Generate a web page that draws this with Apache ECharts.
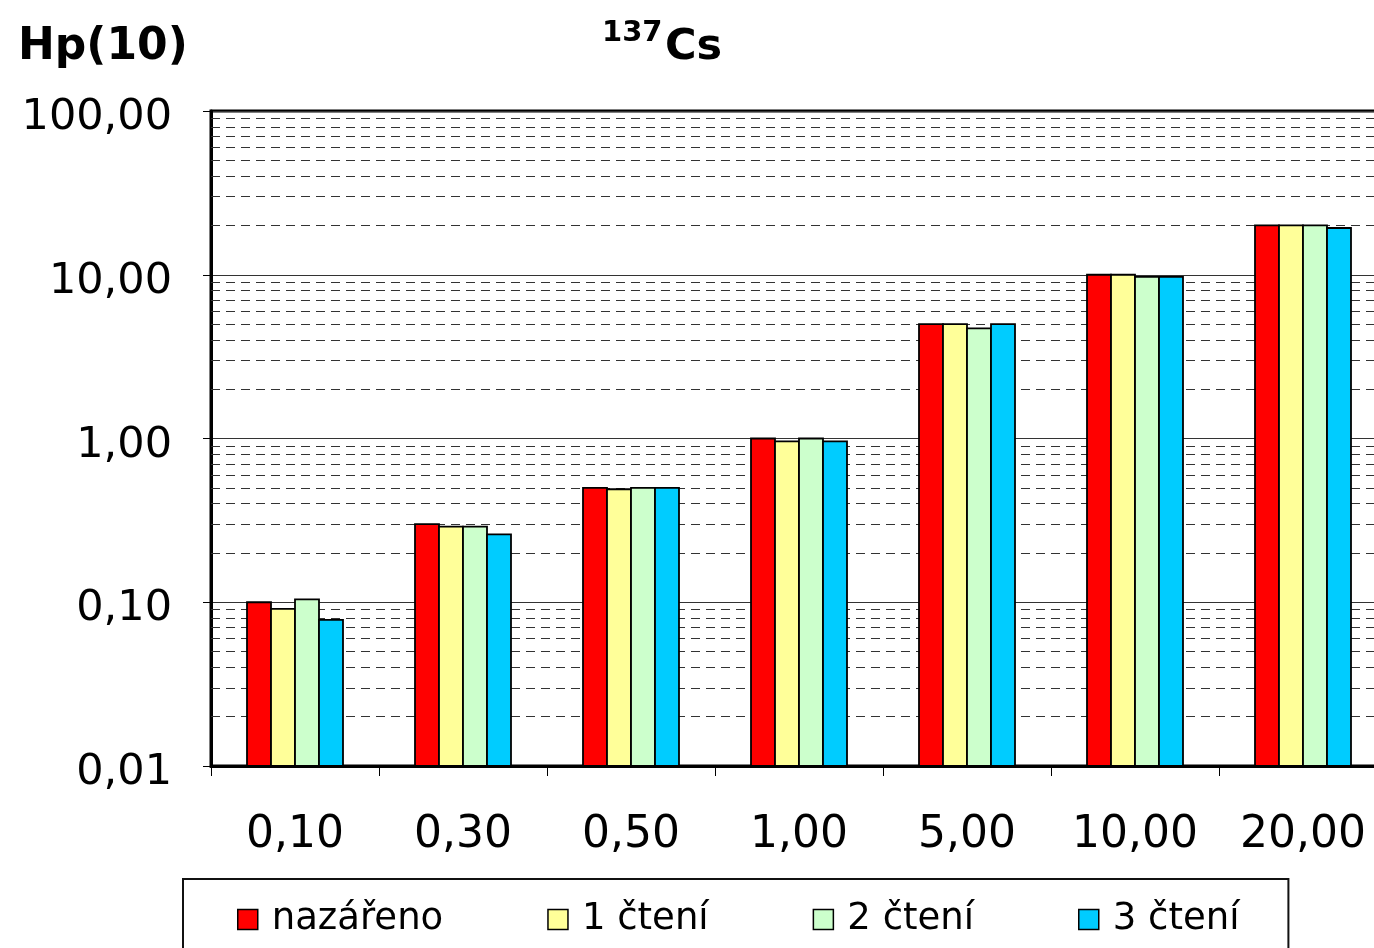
<!DOCTYPE html>
<html>
<head>
<meta charset="utf-8">
<script src="https://cdn.jsdelivr.net/npm/echarts@6/dist/echarts.min.js"></script>
<style>
html,body{margin:0;padding:0;background:#fff;}
#chart{width:1374px;height:948px;}
</style>
</head>
<body>
<div id="chart"></div>
<script>
// ---- data ----
const categories = ['0,10', '0,30', '0,50', '1,00', '5,00', '10,00', '20,00'];
const seriesNames = ['nazářeno', '1 čtení', '2 čtení', '3 čtení'];
const nazareno = [0.10, 0.30, 0.50, 1.00, 5.0, 10.0, 20.0];
const cteni1   = [0.091, 0.29, 0.49, 0.96, 5.0, 10.0, 20.0];
const cteni2   = [0.104, 0.29, 0.50, 1.00, 4.7, 9.7, 20.0];
const cteni3   = [0.078, 0.26, 0.50, 0.96, 5.0, 9.7, 19.3];
const yTickValues = [0.01, 0.1, 1, 10, 100];
const yTickLabels = ['0,01', '0,10', '1,00', '10,00', '100,00'];
const colors = ['#FF0000', '#FFFF99', '#CCFFCC', '#00CCFF'];

const Y_MIN = 0.01, Y_MAX = 100;
const BAR_W = 24;

// minor gridline positions (2..9 within each decade)
const minorLines = [];
[0.01, 0.1, 1, 10].forEach(d => { for (let m = 2; m <= 9; m++) minorLines.push(+(d * m).toPrecision(3)); });

const FONT = 'DejaVu Sans';
const chart = echarts.init(document.getElementById('chart'), null, {renderer: 'canvas'});

const values = [nazareno, cteni1, cteni2, cteni3];
const nSeries = values.length;
const series = values.map((arr, i) => ({
  name: seriesNames[i],
  type: 'custom',
  data: arr.map((v, k) => [k, v]),
  encode: {x: 0, y: 1},
  itemStyle: {color: colors[i], borderColor: '#000', borderWidth: 1.5},
  z: 3,
  renderItem: (params, api) => {
    const k = api.value(0);
    const v = api.value(1);
    const top = api.coord([k, v]);
    const base = api.coord([k, Y_MIN]);
    const offset = (i - (nSeries - 1) / 2) * BAR_W;
    const cx = top[0] + offset;
    return {
      type: 'rect',
      shape: {x: cx - BAR_W / 2, y: top[1], width: BAR_W, height: base[1] - top[1]},
      style: {fill: colors[i], stroke: '#000', lineWidth: 1.8}
    };
  }
}));
series[0].markLine = {
  silent: true,
  symbol: ['none', 'none'],
  z: 1,
  label: {show: false},
  lineStyle: {type: [9, 6], color: '#333', width: 1, opacity: 1},
  emphasis: {disabled: true},
  data: minorLines.map(v => ({yAxis: v}))
};

chart.setOption({
  animation: false,
  backgroundColor: '#fff',
  title: [
    {text: 'Hp(10)', left: 13, top: 21, textStyle: {fontFamily: FONT, fontSize: 44, fontWeight: 'bold', color: '#000'}},
    {text: '137', left: 597, top: 14, textStyle: {fontFamily: FONT, fontSize: 29, fontWeight: 'bold', color: '#000'}},
    {text: 'Cs', left: 660, top: 21, textStyle: {fontFamily: FONT, fontSize: 43, fontWeight: 'bold', color: '#000'}}
  ],
  grid: {left: 211, top: 111, width: 1176, height: 655, outerBoundsMode: 'none', containLabel: false,
         show: true, borderColor: '#000', borderWidth: 3, backgroundColor: 'transparent'},
  legend: {
    left: 183, top: 879,
    padding: [22, 49, 40, 54],
    itemGap: 104,
    itemWidth: 20, itemHeight: 20,
    icon: 'rect',
    borderColor: '#111', borderWidth: 2,
    data: seriesNames,
    itemStyle: {borderColor: '#000', borderWidth: 1.5},
    textStyle: {fontFamily: FONT, fontSize: 37, color: '#000', padding: [0, 0, 0, 9]}
  },
  xAxis: {
    type: 'category',
    data: categories,
    boundaryGap: true,
    axisLine: {lineStyle: {color: '#000', width: 3}},
    axisTick: {show: true, length: 10, interval: 0, lineStyle: {color: '#000', width: 1}},
    axisLabel: {fontFamily: FONT, fontSize: 44, color: '#000', margin: 48, interval: 0},
    splitLine: {show: false}
  },
  yAxis: {
    type: 'log',
    logBase: 10,
    min: Y_MIN, max: Y_MAX,
    splitNumber: 4,
    axisLine: {show: true, lineStyle: {color: '#000', width: 3}},
    axisTick: {show: true, length: 8, lineStyle: {color: '#000', width: 1}},
    axisLabel: {
      fontFamily: FONT, fontSize: 43, color: '#000', margin: 39,
      verticalAlign: 'middle',
      rich: {v: {fontFamily: FONT, fontSize: 43, color: '#000', padding: [14, 0, 0, 0]}},
      formatter: v => {
        const idx = yTickValues.findIndex(t => Math.abs(Math.log10(t) - Math.log10(v)) < 1e-6);
        return idx >= 0 ? '{v|' + yTickLabels[idx] + '}' : '';
      }
    },
    splitLine: {show: true, lineStyle: {color: '#333', width: 1}}
  },
  series: series
});
</script>
</body>
</html>
